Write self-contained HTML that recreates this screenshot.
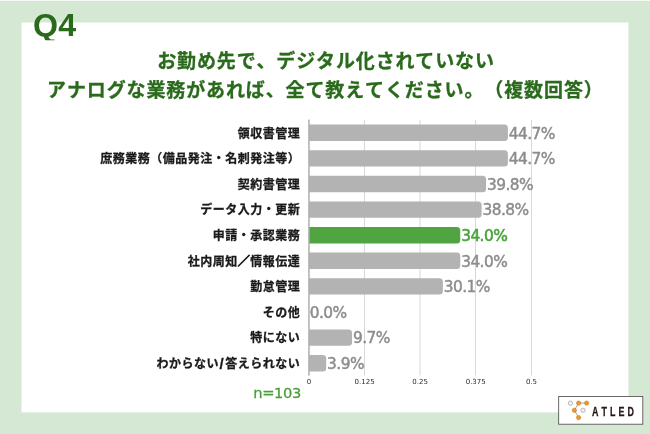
<!DOCTYPE html>
<html lang="ja"><head><meta charset="utf-8"><title>Q4</title>
<style>html,body{margin:0;padding:0;background:#d5e8d4;}body{width:650px;height:434px;overflow:hidden;position:relative;}svg{display:block;position:absolute;left:0;top:0;}text{font-family:"Liberation Sans", "Noto Sans CJK JP", sans-serif;text-spacing-trim:space-all;font-kerning:none;}text.dv{font-family:"DejaVu Sans","Liberation Sans",sans-serif;}text.lib{font-family:"Liberation Sans",sans-serif;}</style>
</head><body>
<svg width="650" height="434" viewBox="0 0 650 434">
<rect x="0" y="0" width="650" height="434" fill="#d5e8d4"/>
<rect x="0" y="0" width="650" height="1" fill="#f4f9f4"/>
<rect x="21.55" y="22.5" width="606.9" height="389.85" fill="#ffffff"/>
<clipPath id="qc"><rect x="0" y="0" width="650" height="40.2"/></clipPath>
<text x="33.1" y="36.1" font-size="32.2" font-weight="700" fill="#2a6a1c" class="lib" clip-path="url(#qc)">Q4</text>
<text x="157.2" y="68.2" font-size="19" letter-spacing="0.86" stroke="#2a6a1c" stroke-width="0.3" font-weight="700" fill="#2a6a1c">お勤め先で、デジタル化されていない</text>
<text x="47.0" y="97.2" font-size="19" letter-spacing="0.88" stroke="#2a6a1c" stroke-width="0.3" font-weight="700" fill="#2a6a1c">アナログな業務があれば、全て教えてください。（複数回答）</text>
<rect x="364.00" y="120" width="1" height="255.3" fill="#d8d8d8"/>
<rect x="419.50" y="120" width="1" height="255.3" fill="#d8d8d8"/>
<rect x="475.00" y="120" width="1" height="255.3" fill="#d8d8d8"/>
<rect x="531.00" y="120" width="1" height="255.3" fill="#d8d8d8"/>
<path d="M308.85 124.60H504.40Q507.90 124.60 507.90 128.10V137.50Q507.90 141.00 504.40 141.00H308.85Z" fill="#b3b3b3"/>
<text x="300.3" y="137.60" font-size="12" letter-spacing="0.5" font-weight="700" fill="#1a1a1a" stroke="#1a1a1a" stroke-width="0.3" text-anchor="end">領収書管理</text>
<text x="508.80" y="138.50" font-size="15.4" letter-spacing="-0.55" fill="#8c8c8c" stroke="#8c8c8c" stroke-width="0.45" class="dv">44.7%</text>
<path d="M308.85 150.20H504.40Q507.90 150.20 507.90 153.70V163.10Q507.90 166.60 504.40 166.60H308.85Z" fill="#b3b3b3"/>
<text x="300.3" y="163.20" font-size="12" letter-spacing="0.5" font-weight="700" fill="#1a1a1a" stroke="#1a1a1a" stroke-width="0.3" text-anchor="end">庶務業務（備品発注・名刺発注等）</text>
<text x="508.80" y="164.10" font-size="15.4" letter-spacing="-0.55" fill="#8c8c8c" stroke="#8c8c8c" stroke-width="0.45" class="dv">44.7%</text>
<path d="M308.85 175.80H482.58Q486.08 175.80 486.08 179.30V188.70Q486.08 192.20 482.58 192.20H308.85Z" fill="#b3b3b3"/>
<text x="300.3" y="188.80" font-size="12" letter-spacing="0.5" font-weight="700" fill="#1a1a1a" stroke="#1a1a1a" stroke-width="0.3" text-anchor="end">契約書管理</text>
<text x="486.98" y="189.70" font-size="15.4" letter-spacing="-0.55" fill="#8c8c8c" stroke="#8c8c8c" stroke-width="0.45" class="dv">39.8%</text>
<path d="M308.85 201.40H478.13Q481.63 201.40 481.63 204.90V214.30Q481.63 217.80 478.13 217.80H308.85Z" fill="#b3b3b3"/>
<text x="300.3" y="214.40" font-size="12" letter-spacing="0.5" font-weight="700" fill="#1a1a1a" stroke="#1a1a1a" stroke-width="0.3" text-anchor="end">データ入力・更新</text>
<text x="482.53" y="215.30" font-size="15.4" letter-spacing="-0.55" fill="#8c8c8c" stroke="#8c8c8c" stroke-width="0.45" class="dv">38.8%</text>
<path d="M308.85 227.00H456.75Q460.25 227.00 460.25 230.50V239.90Q460.25 243.40 456.75 243.40H308.85Z" fill="#50a541"/>
<text x="300.3" y="240.00" font-size="12" letter-spacing="0.5" font-weight="700" fill="#1a1a1a" stroke="#1a1a1a" stroke-width="0.3" text-anchor="end">申請・承認業務</text>
<text x="461.15" y="240.90" font-size="15.4" letter-spacing="-0.55" fill="#4aa23c" stroke="#4aa23c" stroke-width="0.55" class="dv">34.0%</text>
<path d="M308.85 252.60H456.75Q460.25 252.60 460.25 256.10V265.50Q460.25 269.00 456.75 269.00H308.85Z" fill="#b3b3b3"/>
<text x="300.3" y="265.60" font-size="12" letter-spacing="0.5" font-weight="700" fill="#1a1a1a" stroke="#1a1a1a" stroke-width="0.3" text-anchor="end">社内周知<tspan stroke-width="1.0">／</tspan>情報伝達</text>
<text x="461.15" y="266.50" font-size="15.4" letter-spacing="-0.55" fill="#8c8c8c" stroke="#8c8c8c" stroke-width="0.45" class="dv">34.0%</text>
<path d="M308.85 278.20H439.39Q442.89 278.20 442.89 281.70V291.10Q442.89 294.60 439.39 294.60H308.85Z" fill="#b3b3b3"/>
<text x="300.3" y="291.20" font-size="12" letter-spacing="0.5" font-weight="700" fill="#1a1a1a" stroke="#1a1a1a" stroke-width="0.3" text-anchor="end">勤怠管理</text>
<text x="443.79" y="292.10" font-size="15.4" letter-spacing="-0.55" fill="#8c8c8c" stroke="#8c8c8c" stroke-width="0.45" class="dv">30.1%</text>
<text x="300.3" y="316.80" font-size="12" letter-spacing="0.5" font-weight="700" fill="#1a1a1a" stroke="#1a1a1a" stroke-width="0.3" text-anchor="end">その他</text>
<text x="309.75" y="317.70" font-size="15.4" letter-spacing="-0.55" fill="#8c8c8c" stroke="#8c8c8c" stroke-width="0.45" class="dv">0.0%</text>
<path d="M308.85 329.40H348.54Q352.04 329.40 352.04 332.90V342.30Q352.04 345.80 348.54 345.80H308.85Z" fill="#b3b3b3"/>
<text x="300.3" y="342.40" font-size="12" letter-spacing="0.5" font-weight="700" fill="#1a1a1a" stroke="#1a1a1a" stroke-width="0.3" text-anchor="end">特にない</text>
<text x="352.94" y="343.30" font-size="15.4" letter-spacing="-0.55" fill="#8c8c8c" stroke="#8c8c8c" stroke-width="0.45" class="dv">9.7%</text>
<path d="M308.85 355.00H322.72Q326.22 355.00 326.22 358.50V367.90Q326.22 371.40 322.72 371.40H308.85Z" fill="#b3b3b3"/>
<text x="300.3" y="368.00" font-size="12" letter-spacing="0.5" font-weight="700" fill="#1a1a1a" stroke="#1a1a1a" stroke-width="0.3" text-anchor="end">わからない<tspan dx="0.6" dy="0.6" font-size="15">/</tspan><tspan dx="1.0" dy="-0.6">答えられない</tspan></text>
<text x="327.12" y="368.90" font-size="15.4" letter-spacing="-0.55" fill="#8c8c8c" stroke="#8c8c8c" stroke-width="0.45" class="dv">3.9%</text>
<rect x="308.2" y="119.6" width="1.5" height="256" fill="#b0b0b0"/>
<text x="308.90" y="383.9" font-size="7" fill="#2b2b2b" text-anchor="middle" class="dv">0</text>
<text x="364.60" y="383.9" font-size="7" fill="#2b2b2b" text-anchor="middle" class="dv">0.125</text>
<text x="420.10" y="383.9" font-size="7" fill="#2b2b2b" text-anchor="middle" class="dv">0.25</text>
<text x="475.70" y="383.9" font-size="7" fill="#2b2b2b" text-anchor="middle" class="dv">0.375</text>
<text x="531.50" y="383.9" font-size="7" fill="#2b2b2b" text-anchor="middle" class="dv">0.5</text>
<text x="253.3" y="398.3" font-size="14.7" letter-spacing="-0.4" fill="#4a9e3a" stroke="#4a9e3a" stroke-width="0.3" class="dv">n=103</text>
<rect x="558.7" y="396.4" width="84.1" height="27.8" fill="#ffffff" stroke="#444" stroke-width="0.8"/>
<g stroke="#4d4d4d" stroke-width="0.5" fill="none"><path d="M578.6 403.1H586.6"/><path d="M578.6 403.1L574.4 410.3"/><path d="M574.4 410.3L578.6 417.6"/></g>
<circle cx="570.5" cy="403.2" r="2.15" fill="#f2f2f2" stroke="#7a7a7a" stroke-width="0.5"/>
<circle cx="583.0" cy="410.3" r="2.15" fill="#f2f2f2" stroke="#7a7a7a" stroke-width="0.5"/>
<circle cx="578.6" cy="403.1" r="2.15" fill="#f7941d" stroke="#b87420" stroke-width="0.5"/>
<circle cx="586.6" cy="403.1" r="2.15" fill="#f7941d" stroke="#b87420" stroke-width="0.5"/>
<circle cx="574.4" cy="410.3" r="2.15" fill="#f7941d" stroke="#b87420" stroke-width="0.5"/>
<circle cx="578.6" cy="417.6" r="2.15" fill="#f7941d" stroke="#b87420" stroke-width="0.5"/>
<text transform="translate(591.9 415.7) scale(0.75 1)" font-size="11.9" font-weight="700" letter-spacing="4.15" fill="#231815" stroke="#231815" stroke-width="0.25" class="lib">ATLED</text>
</svg>
</body></html>
